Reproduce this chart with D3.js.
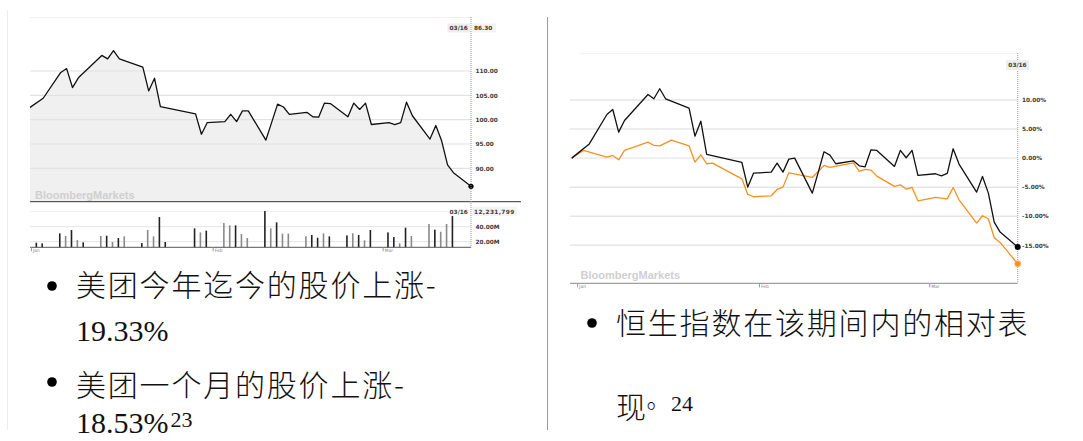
<!DOCTYPE html>
<html>
<head>
<meta charset="utf-8">
<script src="https://cdn.jsdelivr.net/npm/d3@7"></script>
<style>
  body { margin: 0; background: #fff; }
  svg { display: block; }
</style>
</head>
<body>
<script>
// meituan closes (HKD) and % change vs 2019-12-31
const mtDates = ["2019-12-31","2020-01-03","2020-01-06","2020-01-07","2020-01-08","2020-01-09","2020-01-13","2020-01-14","2020-01-15","2020-01-16","2020-01-20","2020-01-21","2020-01-22","2020-01-23","2020-01-29","2020-01-30","2020-01-31","2020-02-03","2020-02-04","2020-02-05","2020-02-06","2020-02-07","2020-02-10","2020-02-12","2020-02-13","2020-02-14","2020-02-17","2020-02-18","2020-02-19","2020-02-20","2020-02-21","2020-02-24","2020-02-25","2020-02-26","2020-02-27","2020-02-28","2020-03-02","2020-03-03","2020-03-04","2020-03-05","2020-03-06","2020-03-09","2020-03-10","2020-03-11","2020-03-12","2020-03-13","2020-03-16"]
const mtPrice = [101.9,104.4,109.7,110.5,106.6,108.6,113.2,112.5,114.2,112.5,110.8,105.9,108.5,102.7,101.2,97.0,99.4,99.6,101.1,99.6,101.8,101.8,95.8,103.2,102.6,101.1,101.5,100.6,100.5,103.4,103.3,100.6,103.4,102.1,103.4,99.0,99.4,99.0,99.4,103.6,100.8,96.0,98.8,95.6,90.7,89.1,86.3]
const mtPct = [0,2.45,7.51,8.37,4.47,6.48,10.95,10.21,11.93,10.21,8.6,3.78,6.36,0.63,-0.75,-4.99,-2.58,-2.41,-0.86,-2.41,-0.17,0,-6.02,1.09,0.52,-0.97,-0.46,-1.32,-1.49,1.43,1.32,-1.43,1.32,0.06,1.32,-2.98,-2.69,-3.04,-2.64,1.61,-1.03,-5.85,-3.15,-6.02,-11.0,-12.73,-15.31]

// hang seng index % change
const hsiDates = ["2019-12-31","2020-01-02","2020-01-06","2020-01-07","2020-01-08","2020-01-09","2020-01-13","2020-01-14","2020-01-15","2020-01-17","2020-01-20","2020-01-21","2020-01-22","2020-01-23","2020-01-24","2020-01-29","2020-01-30","2020-01-31","2020-02-03","2020-02-04","2020-02-05","2020-02-06","2020-02-10","2020-02-12","2020-02-13","2020-02-17","2020-02-18","2020-02-19","2020-02-20","2020-02-21","2020-02-24","2020-02-25","2020-02-26","2020-02-27","2020-02-28","2020-03-02","2020-03-04","2020-03-05","2020-03-06","2020-03-09","2020-03-10","2020-03-11","2020-03-12","2020-03-13","2020-03-16"]
const hsiPct = [0,1.32,0.17,0.46,-0.29,1.32,2.75,2.18,2.12,3.10,2.12,-0.69,0.57,-0.97,-0.86,-3.56,-6.25,-6.65,-6.48,-5.39,-4.99,-2.52,-3.33,-1.26,-1.61,-0.80,-2.29,-1.95,-2.06,-3.10,-4.87,-4.59,-5.33,-5.05,-7.34,-6.77,-7.0,-5.05,-7.17,-11.18,-9.92,-10.44,-13.7,-14.5,-18.18]

// volume in millions, up = 1 dark bar
const volDates = ["2020-01-02","2020-01-03","2020-01-06","2020-01-07","2020-01-08","2020-01-09","2020-01-10","2020-01-13","2020-01-14","2020-01-15","2020-01-16","2020-01-17","2020-01-20","2020-01-21","2020-01-22","2020-01-23","2020-01-24","2020-01-29","2020-01-30","2020-01-31","2020-02-03","2020-02-04","2020-02-05","2020-02-06","2020-02-07","2020-02-10","2020-02-11","2020-02-12","2020-02-13","2020-02-14","2020-02-17","2020-02-18","2020-02-19","2020-02-20","2020-02-21","2020-02-24","2020-02-25","2020-02-26","2020-02-27","2020-02-28","2020-03-02","2020-03-03","2020-03-04","2020-03-05","2020-03-06","2020-03-09","2020-03-10","2020-03-11","2020-03-12","2020-03-13"]
const volM = [18.7,17.8,31.1,27.6,35.6,22.2,19.1,27.6,28.0,19.6,24.9,27.1,18.2,35.6,27.1,52.9,19.6,37.8,32.4,34.7,44.9,41.8,41.8,30.2,24.9,60.9,37.8,45.8,30.7,30.7,27.1,28.9,25.3,31.1,27.1,28.4,31.1,28.9,21.8,35.6,32.4,26.2,17.8,38.7,27.6,43.6,36.0,33.3,43.6,54.2]
const volUp = [1,1,1,0,1,0,1,0,1,0,1,0,1,0,0,1,1,1,0,1,0,0,1,0,0,1,0,1,0,0,0,1,1,0,1,1,0,1,0,1,1,1,0,1,0,0,1,0,0,1]

const priceTicks = [90,95,100,105,110]
const volTicks = [20,40]
const pctTicks = [-15,-10,-5,0,5,10]

// small helper so several attributes can be set at once
d3.selection.prototype.attrs = function(obj) {
    for (let k in obj) this.attr(k, obj[k])
    return this
}

const parse = d3.timeParse("%Y-%m-%d")
const labelFont = "DejaVu Sans, Verdana, sans-serif"
const tickStyle = {"font-family": labelFont, "font-size": "5.8px", "font-weight": "bold", fill: "#3a3a3a"}

const svg = d3.select("body").append("svg")
    .attr("width", 1083)
    .attr("height", 441)

// page frame lines
svg.append("line").attrs({x1: 7.5, x2: 7.5, y1: 10, y2: 430, stroke: "#ececec"})
svg.append("line").attrs({x1: 547.5, x2: 547.5, y1: 17, y2: 430, stroke: "#9a9a9a"})

//---------------- left chart: price + volume
const xL = d3.scaleTime()
    .domain([parse("2019-12-31"), parse("2020-03-16")])
    .range([25.6, 471])
const yL = d3.scaleLinear().domain([90, 110]).range([168.3, 71])
const yV = d3.scaleLinear().domain([20, 40]).range([241.7, 226.7])
const priceBottom = 201.7, volBottom = 247.3

svg.append("clipPath").attr("id", "clipL")
    .append("rect").attrs({x: 30, y: 17, width: 441, height: priceBottom - 17})

svg.append("line").attrs({x1: 30, x2: 471, y1: 17.5, y2: 17.5, stroke: "#f6eeee"})

let gL = svg.append("g").attr("clip-path", "url(#clipL)")

let priceData = mtDates.map(function(d, i) { return {date: parse(d), v: mtPrice[i]} })

gL.append("path")
    .datum(priceData)
    .attr("fill", "#f0f0f0")
    .attr("d", d3.area()
        .x(function(d) { return xL(d.date) })
        .y0(priceBottom)
        .y1(function(d) { return yL(d.v) }))

gL.selectAll(".grid")
    .data(priceTicks)
    .enter()
    .append("line")
    .attrs({
        x1: 30, x2: 471,
        y1: function(d) { return yL(d) },
        y2: function(d) { return yL(d) },
        stroke: "#e2e2e2",
        "stroke-width": 1.2
    })

gL.append("path")
    .datum(priceData)
    .attr("fill", "none")
    .attr("stroke", "#111")
    .attr("stroke-width", 1.3)
    .attr("stroke-linejoin", "round")
    .attr("d", d3.line()
        .x(function(d) { return xL(d.date) })
        .y(function(d) { return yL(d.v) }))

svg.append("text").text("BloombergMarkets")
    .attrs({x: 35, y: 199, "font-family": "Liberation Sans, Arial, sans-serif", "font-weight": "bold", "font-size": "11px", fill: "#cfcfcf"})

svg.selectAll(".pLab")
    .data(priceTicks)
    .enter()
    .append("text")
    .text(function(d) { return d.toFixed(2) })
    .attrs(tickStyle)
    .attrs({x: 475.5, y: function(d) { return yL(d) + 2.2 }})

let last = priceData[priceData.length - 1]
svg.append("circle").attrs({cx: xL(last.date), cy: yL(last.v), r: 2.6, fill: "#000"})

// top value tag
svg.append("rect").attrs({x: 447.5, y: 23.5, width: 22.5, height: 9, fill: "#eeeeee"})
svg.append("rect").attrs({x: 472, y: 23.5, width: 24, height: 9, fill: "#f3f3f3"})
svg.append("text").text(mtDates[mtDates.length - 1].slice(5).replace("-", "/"))
    .attrs(tickStyle)
    .attrs({x: 458.7, y: 30.2, "text-anchor": "middle"})
svg.append("text").text(last.v.toFixed(2))
    .attrs(tickStyle)
    .attrs({x: 474, y: 30.2})

// divider between panels
svg.append("line").attrs({x1: 30, x2: 521, y1: priceBottom, y2: priceBottom, stroke: "#333", "stroke-width": 1})

// volume panel
svg.selectAll(".vGrid")
    .data(volTicks)
    .enter()
    .append("line")
    .attrs({
        x1: 30, x2: 471,
        y1: function(d) { return yV(d) },
        y2: function(d) { return yV(d) },
        stroke: "#e4e4e4"
    })
svg.append("line").attrs({x1: 30, x2: 471, y1: 211.5, y2: 211.5, stroke: "#eeeeee"})

svg.selectAll(".bar")
    .data(volM)
    .enter()
    .append("rect")
    .attrs({
        x: function(d, i) { return xL(parse(volDates[i])) - 1.8 },
        y: function(d) { return yV(d) },
        width: 1.6,
        height: function(d) { return volBottom - yV(d) },
        fill: function(d, i) { return volUp[i] ? "#222" : "#8a8a8a" }
    })

svg.append("line").attrs({x1: 30, x2: 471, y1: volBottom, y2: volBottom, stroke: "#555"})

svg.selectAll(".vLab")
    .data(volTicks)
    .enter()
    .append("text")
    .text(function(d) { return d.toFixed(2) + "M" })
    .attrs(tickStyle)
    .attrs({x: 475.5, y: function(d) { return yV(d) + 2.2 }})

svg.append("rect").attrs({x: 447.5, y: 207, width: 22.5, height: 9, fill: "#fff"})
svg.append("rect").attrs({x: 472, y: 207, width: 45, height: 9, fill: "#f3f3f3"})
svg.append("text").text("03/16")
    .attrs(tickStyle)
    .attrs({x: 458.7, y: 213.7, "text-anchor": "middle"})
svg.append("text").text("12,231,799")
    .attrs(tickStyle)
    .attrs({x: 474, y: 213.7, "letter-spacing": "0.4px"})

// right dotted axis
svg.append("line").attrs({x1: 471, x2: 471, y1: 17, y2: volBottom, stroke: "#999", "stroke-dasharray": "1,1"})

// month ticks
let monthsL = d3.timeMonth.range(parse("2020-01-01"), parse("2020-03-17"))
svg.selectAll(".mTickL")
    .data(monthsL)
    .enter()
    .append("line")
    .attrs({x1: function(d) { return xL(d) }, x2: function(d) { return xL(d) }, y1: volBottom, y2: volBottom + 4, stroke: "#999"})
svg.selectAll(".mLabL")
    .data(monthsL)
    .enter()
    .append("text")
    .text(d3.timeFormat("%b"))
    .attrs({x: function(d) { return xL(d) + 1.5 }, y: volBottom + 4.5, "font-family": labelFont, "font-size": "4.5px", fill: "#888"})

//---------------- right chart: relative performance
const xR = d3.scaleTime()
    .domain([parse("2019-12-31"), parse("2020-03-16")])
    .range([571.7, 1017.7])
const yR = d3.scaleLinear().domain([-15, 10]).range([245.3, 100])
const rBottom = 283.3

svg.append("line").attrs({x1: 580, x2: 1017, y1: 53.5, y2: 53.5, stroke: "#f3f3f3"})

svg.selectAll(".rGrid")
    .data(pctTicks)
    .enter()
    .append("line")
    .attrs({
        x1: 570, x2: 1017.7,
        y1: function(d) { return yR(d) },
        y2: function(d) { return yR(d) },
        stroke: "#e6e6e6",
        "stroke-width": 1.4
    })

let lineR = d3.line()
    .x(function(d) { return xR(d.date) })
    .y(function(d) { return yR(d.v) })

let hsiData = hsiDates.map(function(d, i) { return {date: parse(d), v: hsiPct[i]} })
let mtData = mtDates.map(function(d, i) { return {date: parse(d), v: mtPct[i]} })

svg.append("path").datum(hsiData)
    .attrs({d: lineR, fill: "none", stroke: "#f7901e", "stroke-width": 1.3, "stroke-linejoin": "round"})
svg.append("path").datum(mtData)
    .attrs({d: lineR, fill: "none", stroke: "#111", "stroke-width": 1.3, "stroke-linejoin": "round"})

svg.append("text").text("BloombergMarkets")
    .attrs({x: 580.5, y: 279, "font-family": "Liberation Sans, Arial, sans-serif", "font-weight": "bold", "font-size": "11px", fill: "#cfcfcf"})

svg.append("line").attrs({x1: 570, x2: 1017.7, y1: rBottom, y2: rBottom, stroke: "#888"})
svg.append("line").attrs({x1: 1017.7, x2: 1017.7, y1: 53, y2: rBottom, stroke: "#999", "stroke-dasharray": "1,1"})

svg.selectAll(".rLab")
    .data(pctTicks)
    .enter()
    .append("text")
    .text(function(d) { return d.toFixed(2) + "%" })
    .attrs(tickStyle)
    .attrs({x: 1022, y: function(d) { return yR(d) + 2.2 }})

let hLast = hsiData[hsiData.length - 1], mLast = mtData[mtData.length - 1]
svg.append("circle").attrs({cx: xR(hLast.date), cy: yR(hLast.v), r: 3, fill: "#f7901e", stroke: "#f9b060", "stroke-width": 0.8})
svg.append("circle").attrs({cx: xR(mLast.date), cy: yR(mLast.v), r: 3, fill: "#000"})

svg.append("rect").attrs({x: 1006, y: 60, width: 23, height: 10, fill: "#eeeeee"})
svg.append("text").text("03/16")
    .attrs(tickStyle)
    .attrs({x: 1017.5, y: 67.2, "text-anchor": "middle"})

let monthsR = d3.timeMonth.range(parse("2020-01-01"), parse("2020-03-17"))
svg.selectAll(".mTickR")
    .data(monthsR)
    .enter()
    .append("line")
    .attrs({x1: function(d) { return xR(d) }, x2: function(d) { return xR(d) }, y1: rBottom, y2: rBottom + 4, stroke: "#999"})
svg.selectAll(".mLabR")
    .data(monthsR)
    .enter()
    .append("text")
    .text(d3.timeFormat("%b"))
    .attrs({x: function(d) { return xR(d) + 1.5 }, y: rBottom + 5, "font-family": labelFont, "font-size": "4.5px", fill: "#888"})

//---------------- bullet text
const cjk = "Noto Sans CJK SC, sans-serif"
const serif = "Liberation Serif, Times New Roman, serif"
const cjkStyle = {"font-family": cjk, "font-size": "30px", "font-weight": 300, "letter-spacing": "1.8px", fill: "#111"}

function bullet(x, y) {
    svg.append("circle").attrs({cx: x, cy: y, r: 4.8, fill: "#000"})
}

bullet(52, 286)
svg.append("text").text("美团今年迄今的股价上涨-")
    .attrs(cjkStyle)
    .attrs({x: 76, y: 296})
svg.append("text").text("19.33%")
    .attrs({x: 76, y: 341, "font-family": serif, "font-size": "30px", fill: "#111"})

bullet(52, 382)
svg.append("text").text("美团一个月的股价上涨-")
    .attrs(cjkStyle)
    .attrs({x: 76, y: 396})
let t4 = svg.append("text").attrs({x: 76, y: 433, "font-family": serif, "font-size": "30px", fill: "#111"})
t4.append("tspan").text("18.53%")
t4.append("tspan").text("23").attrs({"font-size": "22px", dx: 2, dy: -6})

bullet(592, 323)
svg.append("text").text("恒生指数在该期间内的相对表")
    .attrs(cjkStyle)
    .attrs({x: 616, y: 334})
svg.append("text").text("现")
    .attrs(cjkStyle)
    .attrs({x: 616, y: 418, "letter-spacing": "0px"})
svg.append("text").text("。")
    .attrs(cjkStyle)
    .attrs({x: 646.5, y: 407.5, "font-size": "24px", "letter-spacing": "0px"})
svg.append("text").text("24")
    .attrs({x: 671, y: 411, "font-family": serif, "font-size": "22px", fill: "#111"})
</script>
</body>
</html>
